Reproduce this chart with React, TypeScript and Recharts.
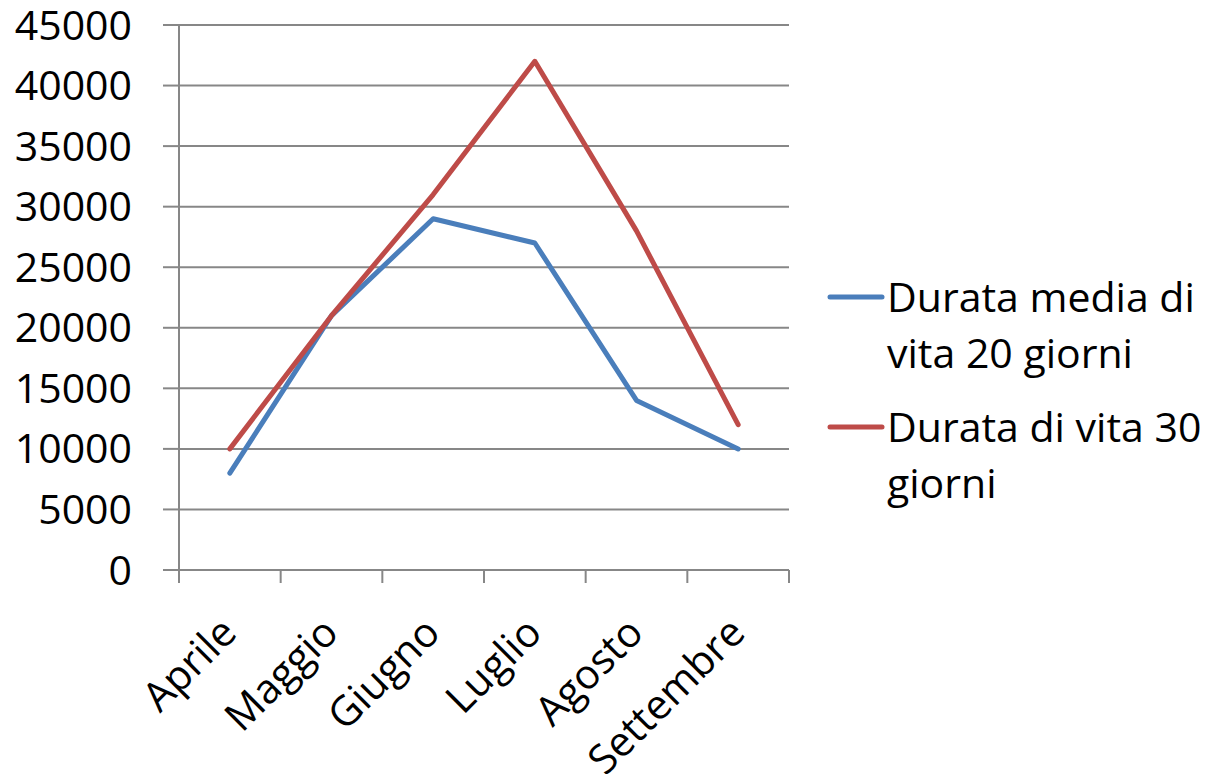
import { CartesianGrid, Legend, Line, LineChart, XAxis, YAxis } from 'recharts'

const months = ['Aprile', 'Maggio', 'Giugno', 'Luglio', 'Agosto', 'Settembre']
const vita20 = [8000, 21000, 29000, 27000, 14000, 10000]
const vita30 = [10000, 21000, 31000, 42000, 28000, 12000]
const yTicks = [0, 5000, 10000, 15000, 20000, 25000, 30000, 35000, 40000, 45000]

const series = [
  { key: 'vita20', name: 'Durata media di vita 20 giorni', color: '#4A7EBB' },
  { key: 'vita30', name: 'Durata di vita 30 giorni', color: '#BE4B48' },
]

const data = months.map((month, i) => ({ month, vita20: vita20[i], vita30: vita30[i] }))

const FONT = '"Open Sans", sans-serif'
const AXIS = '#878787'
const PLOT_W = 610
const HALF_BAND = PLOT_W / months.length / 2

// category ticks sit on the band edges, labels are turned 45°
function MonthTick(props: any) {
  const { x, y, payload, index, visibleTicksCount } = props
  const last = index === visibleTicksCount - 1
  const lx = x + 9
  const ly = y + 65
  return (
    <g>
      <line x1={x - HALF_BAND} x2={x - HALF_BAND} y1={y} y2={y + 13} stroke={AXIS} strokeWidth={2} />
      {last && <line x1={x + HALF_BAND} x2={x + HALF_BAND} y1={y} y2={y + 13} stroke={AXIS} strokeWidth={2} />}
      <text
        x={lx}
        y={ly}
        transform={`rotate(-45 ${lx} ${ly})`}
        textAnchor="end"
        fontFamily={FONT}
        fontSize={41}
        fill="#000"
      >
        {payload.value}
      </text>
    </g>
  )
}

function LegendBox() {
  return (
    <div style={{ fontFamily: FONT, fontSize: 41, lineHeight: '56px', color: '#000' }}>
      {series.map((s) => (
        <div key={s.key} style={{ display: 'flex', alignItems: 'flex-start', marginBottom: 18 }}>
          <svg width={61} height={56} style={{ flex: 'none' }}>
            <line x1={4} x2={56} y1={29} y2={29} stroke={s.color} strokeWidth={5} strokeLinecap="round" />
          </svg>
          <div style={{ width: 330 }}>{s.name}</div>
        </div>
      ))}
    </div>
  )
}

export default function App() {
  return (
    <div style={{ position: 'absolute', left: 0, top: 0, background: '#fff' }}>
      <LineChart width={1212} height={774} data={data} margin={{ top: 25, right: 33, bottom: 14, left: 0 }}>
        <CartesianGrid vertical={false} stroke={AXIS} strokeWidth={2} />
        <XAxis
          dataKey="month"
          height={190}
          padding={{ left: HALF_BAND, right: HALF_BAND }}
          tickLine={false}
          tickSize={0}
          tickMargin={0}
          axisLine={{ stroke: AXIS, strokeWidth: 2 }}
          tick={<MonthTick />}
          interval={0}
        />
        <YAxis
          width={179}
          domain={[0, 45000]}
          ticks={yTicks}
          interval={0}
          tickSize={16}
          tickMargin={31}
          tickLine={{ stroke: AXIS, strokeWidth: 2 }}
          axisLine={{ stroke: AXIS, strokeWidth: 2 }}
          tick={{ fontFamily: FONT, fontSize: 41, fill: '#000' }}
        />
        <Legend
          layout="vertical"
          align="right"
          verticalAlign="middle"
          width={390}
          content={<LegendBox />}
          wrapperStyle={{ left: 826, top: 268, right: 'auto' }}
        />
        {series.map((s) => (
          <Line
            key={s.key}
            dataKey={s.key}
            name={s.name}
            stroke={s.color}
            strokeWidth={5}
            strokeLinecap="round"
            strokeLinejoin="round"
            dot={false}
            activeDot={false}
            isAnimationActive={false}
          />
        ))}
      </LineChart>
    </div>
  )
}
